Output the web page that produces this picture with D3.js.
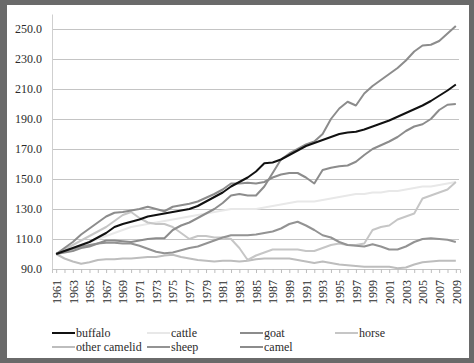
<!DOCTYPE html>
<html>
<head>
<meta charset="utf-8">
<script src="https://cdn.jsdelivr.net/npm/d3@7"></script>
<style>
  html, body { margin: 0; padding: 0; background: #6f6f6f; }
  svg { display: block; }
  svg text { font-family: "Liberation Serif", "Times New Roman", serif !important; fill: #2b2b2b; }
</style>
</head>
<body>
<svg id="chart" width="474" height="363"></svg>
<script>
const years = d3.range(1961, 2010);
const yTicks = [90, 110, 130, 150, 170, 190, 210, 230, 250];
const seriesNames = ["buffalo", "cattle", "goat", "horse", "other camelid", "sheep", "camel"];
const seriesColors = ["#111111", "#e8e8e8", "#8c8c8c", "#c6c6c6", "#bdbdbd", "#939393", "#8c8c8c"];

const buffalo = [100,102,104,106,108,111,114,118,120,121.5,123,125,126,127,128,129,130,132,135,138,141,145,148,151,155,160.5,161,163,166,169,172,174,176,178,180,181,181.5,183,185,187,189,191.5,194,196.5,199,202,205.5,209,213];
const cattle = [100,102,104,106,108,110,112,114,116,118,119,120,121,122,123,124,125,126,127,128,129,130,130,130,130,131,132,133,134,135,135,135,136,137,138,139,140,140,141,141,142,142,143,144,145,145,146,147,148];
const goat = [100,101,102,104,105,107,109,109,108.5,108,109,110,110.5,110.5,116,119,121,124,127,130,134,139,140,139,139,145,154,163,167,170,173,175,180,190,197,201.5,199,207,212,216,220,224,229,235,239,239.5,242,247,252];
const horse = [100,103,106,109,112,115,118,122,126,128,124,121,120,120,118,114,110,112,112,111,111,110,104,96,99,101,103,103,103,103,102,102,104,106,107,106,106,107,116,118,119,123,125,127,137,139,141,143,148];
const otherCamelid = [100,97,95,93.5,94.5,96,96.5,96.5,97,97,97.5,98,98,99,99.5,98,97,96,95.5,95,95.5,95.5,95,95.5,96.5,97,97,97,97,96,95,94,95,94,93,92.5,92,91.5,91.5,91.5,91.5,90.5,91,93,94.5,95,95.5,95.5,95.5];
const sheep = [100,102,103.5,105,106,107,107.5,107.5,107,107,105.5,103.5,101.5,100.5,101,102.5,104,105,107,109,111,112.5,112.5,112.5,113,114,115,117,120,121.5,119,116,112.5,111,108,106,105.5,105,106.5,105,103,103,105,108,110,110.5,110,109.5,108];
const camel = [100,104,108,113,117,121,125,127.5,128,129,130,131.5,130,128.5,131.5,132.5,133.5,135,137.5,140,143,147,147,147.5,147,148,151,153,154,154,151,147,156,157.5,158.5,159,161.5,166,170,172.5,175,178,182,185,186.5,190,196,199.5,200];

const seriesValues = [buffalo, cattle, goat, horse, otherCamelid, sheep, camel];

const svg = d3.select("#chart");
// scanned page
svg.append("rect").attr("x", 0).attr("y", 0).attr("width", 474).attr("height", 363).attr("fill", "#6a6a6a");
svg.append("rect").attr("x", 7).attr("y", 5).attr("width", 462).attr("height", 353).attr("fill", "#ffffff");

const mLeft = 52, mRight = 460, mTop = 14, mBottom = 269;
const x = d3.scalePoint().domain(years).range([mLeft, mRight]).padding(0.5);
const y = d3.scaleLinear().domain([90, 260]).range([mBottom, mTop]);

// gridlines
svg.append("g")
  .attr("transform", `translate(${mLeft},0)`)
  .call(d3.axisLeft(y).tickValues(yTicks).tickSize(-(mRight - mLeft - 1)).tickFormat(""))
  .call(g => g.select(".domain").remove())
  .call(g => g.selectAll("line").attr("stroke", "#c4c4c4").attr("stroke-width", 1));

// y axis line + labels
const yAxis = svg.append("g")
  .attr("transform", `translate(${mLeft},0)`)
  .call(d3.axisLeft(y).tickValues(yTicks).tickSize(0).tickPadding(10).tickFormat(d3.format(".1f")));
yAxis.attr("font-family", null);
yAxis.select(".domain").attr("stroke", "#cfcfcf");
yAxis.selectAll("text").attr("font-size", 12).attr("fill", "#2b2b2b");

// x axis
const xAxis = svg.append("g")
  .attr("transform", `translate(0,${mBottom})`)
  .call(d3.axisBottom(x).tickValues(years).tickSize(4).tickFormat(d => (d % 2 === 1 ? d : "")));
xAxis.attr("font-family", null);
xAxis.select(".domain").attr("stroke", "#c4c4c4");
xAxis.selectAll("line").attr("stroke", "#bdbdbd");
xAxis.selectAll("text")
  .attr("font-size", 12)
  .attr("fill", "#2b2b2b")
  .attr("transform", "rotate(-90)")
  .attr("text-anchor", "end")
  .attr("x", -11)
  .attr("y", 0)
  .attr("dy", "0.35em");

// lines
const line = d3.line().x((d, i) => x(years[i])).y(d => y(d));
const order = [1, 4, 3, 5, 6, 2, 0];
order.forEach(k => {
  svg.append("path")
    .datum(seriesValues[k])
    .attr("fill", "none")
    .attr("stroke", seriesColors[k])
    .attr("stroke-width", 2)
    .attr("stroke-linejoin", "round")
    .attr("d", line);
});

// legend
const legendPos = [[52, 333], [147, 333], [240, 333], [335, 333], [52, 347], [147, 347], [240, 347]];
seriesNames.forEach((name, i) => {
  const [lx, ly] = legendPos[i];
  const g = svg.append("g").attr("transform", `translate(${lx},${ly})`);
  g.append("line").attr("x1", 0).attr("x2", 23).attr("y1", 0).attr("y2", 0)
    .attr("stroke", seriesColors[i]).attr("stroke-width", 2);
  g.append("text").attr("x", 24).attr("y", 0).attr("dy", "0.32em")
    .attr("font-size", 12).text(name);
});
</script>
</body>
</html>
